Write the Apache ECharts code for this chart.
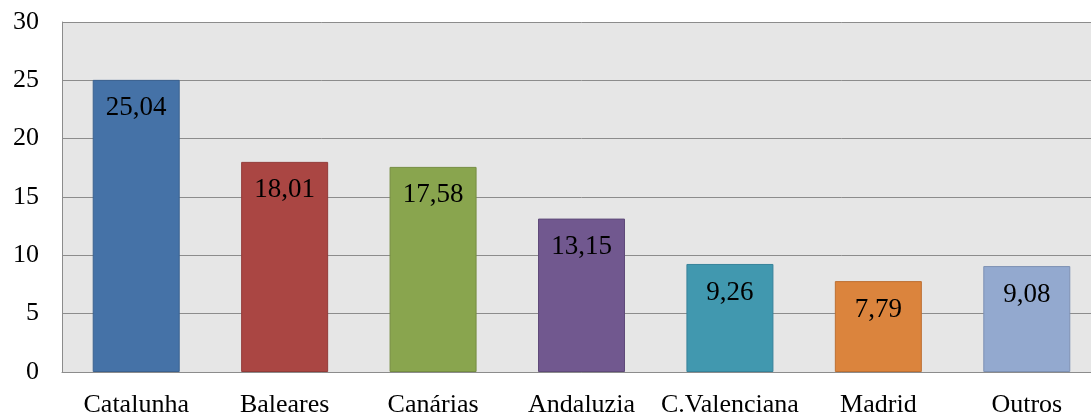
<!DOCTYPE html>
<html>
<head>
<meta charset="utf-8">
<script src="https://cdn.jsdelivr.net/npm/echarts@6/dist/echarts.min.js"></script>
<style>
  html, body { margin: 0; padding: 0; background: #fff; overflow: hidden; }
  #frame { width: 1091px; height: 418px; overflow: hidden; position: relative; }
  #chart { width: 1110px; height: 418px; position: absolute; left: 0; top: 0; }
</style>
</head>
<body>
<div id="frame"><div id="chart"></div></div>
<script>
const categories = ['Catalunha', 'Baleares', 'Canárias', 'Andaluzia', 'C.Valenciana', 'Madrid', 'Outros'];
const values = [25.04, 18.01, 17.58, 13.15, 9.26, 7.79, 9.08];
const barColors = ['#4572a7', '#aa4643', '#89a54e', '#71588f', '#4198af', '#db843d', '#93a9cf'];
const borderColors = ['#3b6290', '#923b38', '#758d42', '#5f4a79', '#37839a', '#bd7033', '#7e92b4'];
const yTicks = [0, 5, 10, 15, 20, 25, 30];

const chart = echarts.init(document.getElementById('chart'));
const serif = 'Liberation Serif, Times New Roman, serif';

chart.setOption({
  animation: false,
  grid: {
    left: 62, top: 22, width: 1039, height: 353,
    show: true, backgroundColor: '#e6e6e6', borderWidth: 0
  },
  xAxis: {
    type: 'category',
    data: categories,
    axisTick: { show: false },
    axisLine: { lineStyle: { color: '#8c8c8c' } },
    axisLabel: { color: '#000', fontFamily: serif, fontSize: 26, margin: 20, interval: 0 }
  },
  yAxis: {
    type: 'value',
    min: yTicks[0], max: yTicks[yTicks.length - 1], interval: 5,
    axisLine: { show: true, lineStyle: { color: '#8c8c8c' } },
    axisTick: { show: false },
    splitLine: { lineStyle: { color: '#8c8c8c', width: 1 } },
    axisLabel: { color: '#000', fontFamily: serif, fontSize: 26, margin: 23 }
  },
  series: [{
    type: 'bar',
    barWidth: 87,
    data: values.map((v, i) => ({
      value: v,
      itemStyle: { color: barColors[i], borderColor: borderColors[i], borderWidth: 1 }
    })),
    label: {
      show: true,
      position: 'insideTop',
      distance: 15,
      color: '#000',
      fontFamily: serif,
      fontSize: 27,
      formatter: p => p.value.toFixed(2).replace('.', ',')
    }
  }]
});
</script>
</body>
</html>
